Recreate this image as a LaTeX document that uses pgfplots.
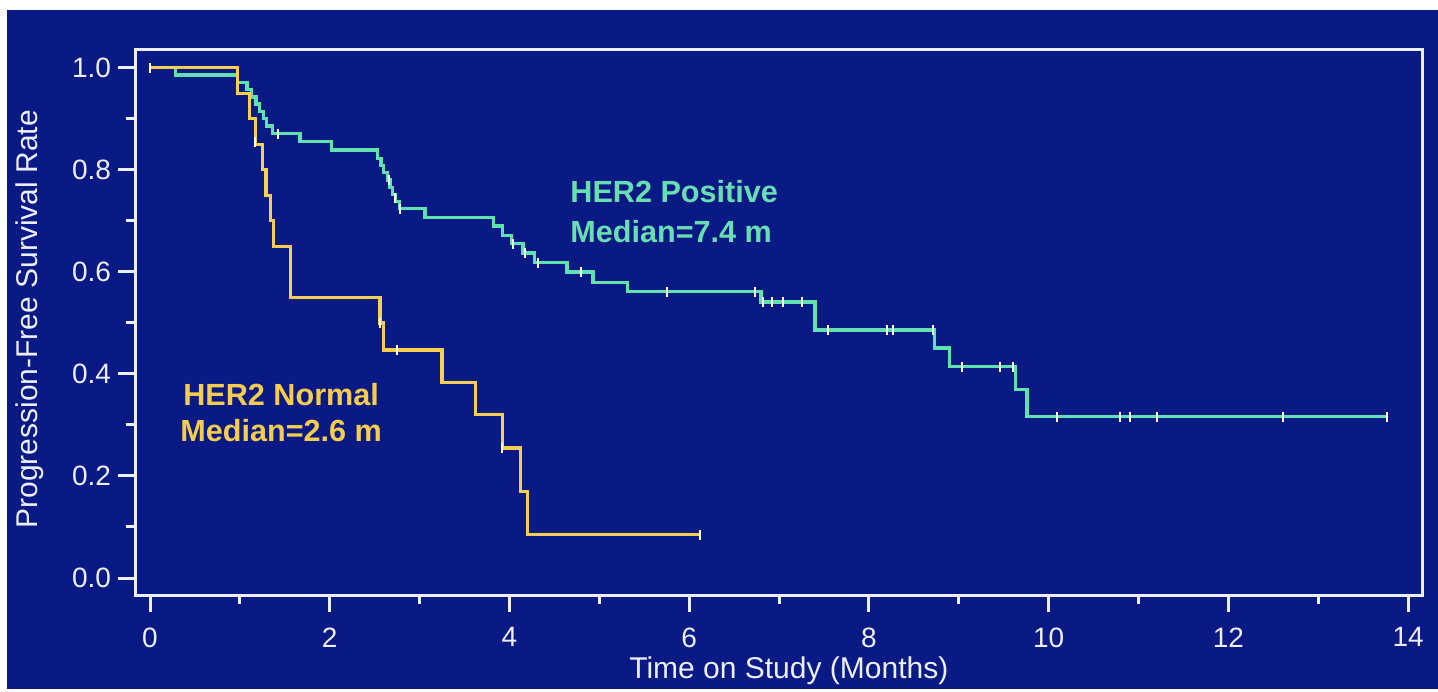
\documentclass[border=0pt]{standalone}
\usepackage{pgfplots}
\pgfplotsset{compat=1.18}
\usepackage{fontspec}
\setmainfont{Liberation Sans}
\definecolor{bgblue}{RGB}{10,26,132}
\definecolor{axiswhite}{RGB}{236,238,248}
\definecolor{posgreen}{RGB}{96,226,176}
\definecolor{normyellow}{RGB}{246,206,84}
\definecolor{posgreentext}{RGB}{104,222,178}
\definecolor{normyellowtext}{RGB}{244,204,78}
\begin{document}
\begin{tikzpicture}
\fill[white] (0,0) rectangle (719pt,344.5pt);
\fill[bgblue] (3.5pt,0) rectangle (719pt,339.5pt);
\begin{axis}[
  at={(67.5pt,47pt)}, anchor=south west,
  scale only axis, width=643.5pt, height=272.5pt,
  xmin=-0.167, xmax=14.155, ymin=-0.0333, ymax=1.035,
  axis line style={draw=axiswhite, line width=1.5pt},
  every tick/.style={draw=axiswhite, line width=1.5pt},
  tick align=outside, tick pos=left,
  major tick length=8.5pt, minor tick length=4.5pt,
  xtick={0,2,4,6,8,10,12,14}, minor xtick={1,3,5,7,9,11,13},
  ytick={0,0.2,0.4,0.6,0.8,1.0}, minor ytick={0.1,0.3,0.5,0.7,0.9},
  /pgf/number format/assume math mode=true,
  ticklabel style={font=\fontsize{14}{16}\selectfont, text=axiswhite},
  xticklabel style={yshift=-4.3pt},
  yticklabel style={/pgf/number format/.cd, fixed, fixed zerofill, precision=1},
  xlabel={Time on Study (Months)},
  ylabel={Progression-Free Survival Rate},
  every axis x label/.style={at={(axis description cs:0.508,-0.139)}, anchor=center, font=\fontsize{15}{17}\selectfont, text=axiswhite},
  every axis y label/.style={at={(axis description cs:-0.0816,0.506)}, rotate=90, anchor=center, font=\fontsize{15}{17}\selectfont, text=axiswhite},
  clip=false,
]
% HER2 Positive
\addplot[const plot, color=posgreen, line width=1.6pt] coordinates {
(0,1.0) (0.28,0.986) (0.97,0.971) (1.08,0.957) (1.13,0.943) (1.18,0.929)
(1.22,0.914) (1.26,0.90) (1.30,0.886) (1.36,0.871) (1.67,0.855) (2.02,0.839)
(2.53,0.823) (2.57,0.809) (2.60,0.795) (2.64,0.780) (2.67,0.766) (2.70,0.752)
(2.73,0.738) (2.78,0.724) (3.06,0.706) (3.82,0.690) (3.92,0.672) (4.02,0.655)
(4.15,0.637) (4.28,0.618) (4.64,0.600) (4.93,0.580) (5.31,0.561) (6.80,0.541)
(7.40,0.486) (8.73,0.451) (8.90,0.414) (9.63,0.369) (9.76,0.316) (13.77,0.316)
};
% HER2 Normal
\addplot[const plot, color=normyellow, line width=1.6pt] coordinates {
(0,1.0) (0.97,0.95) (1.11,0.90) (1.17,0.85) (1.25,0.80) (1.29,0.75)
(1.34,0.70) (1.37,0.65) (1.56,0.55) (2.56,0.50) (2.60,0.447) (3.25,0.383)
(3.62,0.32) (3.92,0.255) (4.12,0.17) (4.20,0.085) (6.12,0.085)
};
% censor marks
\addplot[only marks, mark=|, mark size=2.5pt, mark options={draw=white, line width=1pt}] coordinates {
(0,1.0) (1.42,0.871) (2.66,0.780) (2.73,0.745) (2.78,0.724) (4.04,0.655)
(4.17,0.637) (4.32,0.618) (4.80,0.600) (5.75,0.561) (6.73,0.561) (6.82,0.541)
(6.92,0.541) (7.04,0.541) (7.26,0.541) (7.55,0.486) (8.20,0.486) (8.27,0.486)
(8.71,0.486) (9.04,0.414) (9.46,0.414) (9.60,0.414) (10.09,0.316) (10.79,0.316)
(10.90,0.316) (11.21,0.316) (12.61,0.316) (13.77,0.316)
(1.17,0.855) (2.56,0.50) (2.75,0.447) (3.92,0.255) (6.12,0.085)
};
\node[anchor=base west, inner sep=0, text=posgreentext, font=\bfseries\fontsize{15.3}{17}\selectfont] at (axis cs:4.674,0.737) {HER2 Positive};
\node[anchor=base west, inner sep=0, text=posgreentext, font=\bfseries\fontsize{15.3}{17}\selectfont] at (axis cs:4.674,0.657) {Median=7.4 m};
\node[anchor=base west, inner sep=0, text=normyellowtext, font=\bfseries\fontsize{15.3}{17}\selectfont] at (axis cs:0.367,0.339) {HER2 Normal};
\node[anchor=base west, inner sep=0, text=normyellowtext, font=\bfseries\fontsize{15.3}{17}\selectfont] at (axis cs:0.334,0.267) {Median=2.6 m};
\end{axis}
\end{tikzpicture}
\end{document}
